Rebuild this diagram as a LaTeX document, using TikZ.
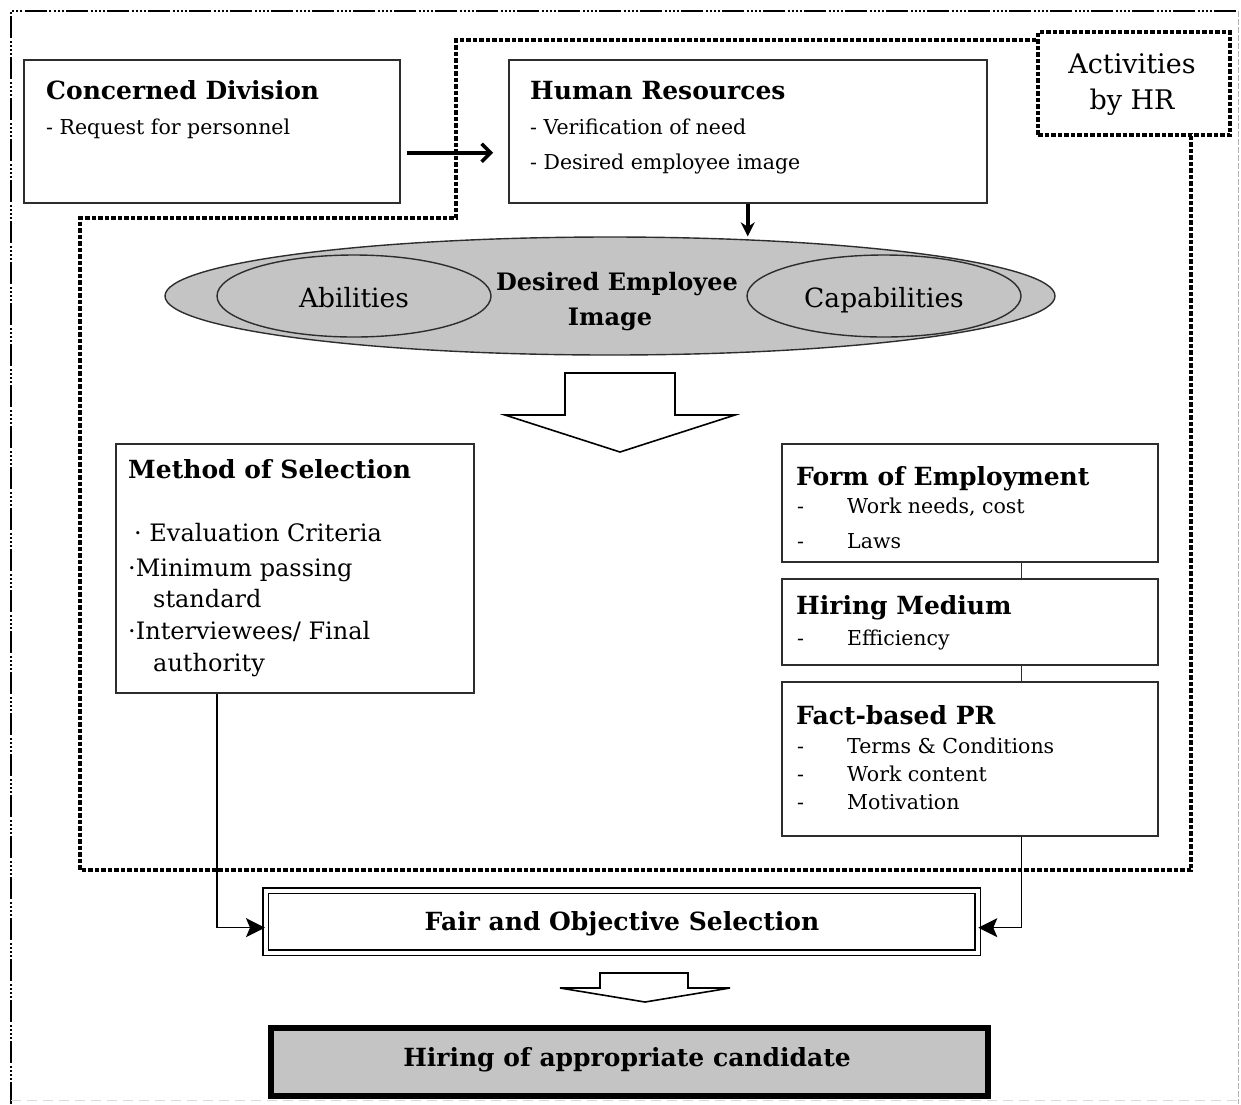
\documentclass[tikz,border=0pt]{standalone}
\usepackage{fontspec}
\setmainfont{DejaVu Serif}
\usetikzlibrary{arrows.meta,shapes.geometric}

\definecolor{shade}{RGB}{196,196,196}
\definecolor{edge}{RGB}{45,45,45}

\begin{document}
\begin{tikzpicture}[x=1pt,y=-1pt,
  box/.style={draw=edge,line width=1.5pt,fill=white,anchor=north west,inner sep=0pt},
  hrzone/.style={line width=4pt,dash pattern=on 4.5pt off 2pt},
  oval/.style={ellipse,draw=edge,line width=1.4pt,inner sep=0pt},
  heading/.style={font=\bfseries\fontsize{25}{29}\selectfont,anchor=base west,inner sep=0pt},
  item/.style={font=\fontsize{20.5}{24}\selectfont,anchor=base west,inner sep=0pt},
  listitem/.style={font=\fontsize{24}{28}\selectfont,anchor=base west,inner sep=0pt},
  plain/.style={font=\fontsize{27}{31}\selectfont,anchor=base,inner sep=0pt},
  banner/.style={font=\bfseries\fontsize{25}{29}\selectfont,anchor=base,inner sep=0pt},
  feed/.style={line width=1.3pt,-{Stealth[length=19pt,width=19pt,inset=4pt]}},
  hollow/.style={draw=black,line width=1.6pt,fill=white,line join=miter}
]
\useasboundingbox (0,0) rectangle (1241,1104);

% page frame
\draw[line width=2.4pt,dash pattern=on 22pt off 2.5pt on 2pt off 2pt on 2pt off 2pt on 2pt off 2pt on 2pt off 2.5pt]
  (11,1104) -- (11,11) -- (1238,11);
\draw[gray!60,line width=0.8pt,dash pattern=on 6pt off 2pt] (1238,11) -- (1238,1104);
\draw[gray!30,line width=0.8pt,dash pattern=on 10pt off 6pt] (11,1100) -- (1238,1100);

% requesting division and HR
\node[box,minimum width=376pt,minimum height=143pt] (cd) at (23,59) {};
\node[heading] (cdT) at (46,99) {Concerned Division};
\node[item] (cdL) at (46,134) {- Request for personnel};

\node[box,minimum width=478pt,minimum height=143pt] (hr) at (508,59) {};
\node[heading] (hrT) at (530,99) {Human Resources};
\node[item] (hrL1) at (530,134) {- Verification of need};
\node[item] (hrL2) at (530,169) {- Desired employee image};

\node[box,draw=black,hrzone,minimum width=192pt,minimum height=103pt] (act) at (1036,30) {};
\node[plain] (actA) at (1132,73) {Activities};
\node[plain] (actB) at (1132,109) {by HR};

% boundary of the HR activities
\draw[hrzone] ([yshift=-10pt]act.north west) -- (456,40) -- (456,218) -- (80,218)
  -- (80,870) -- (1191,870) -- (1191,133);

\draw[line width=3.5pt,-{Straight Barb[length=9pt,width=18pt,line width=3.5pt]}]
  ([shift={(6,21.5)}]cd.east) -- ([shift={(-15,21.5)}]hr.west);

% desired employee image
\node[oval,fill=shade,minimum width=890pt,minimum height=118pt] (dei) at (610,296) {};
\node[oval,minimum width=274pt,minimum height=82pt] (abil) at (354,296) {};
\node[oval,minimum width=274pt,minimum height=82pt] (capa) at (884,296) {};
\node[banner,font=\bfseries\fontsize{24}{28}\selectfont] (deiA) at (617,290) {Desired Employee};
\node[banner,font=\bfseries\fontsize{24}{28}\selectfont] (deiB) at (610,325) {Image};
\node[plain,font=\fontsize{26.5}{30}\selectfont] (abilT) at (354,307) {Abilities};
\node[plain,font=\fontsize{26.5}{30}\selectfont] (capaT) at (884,307) {Capabilities};

\draw[line width=3.5pt,-{Stealth[length=14pt,width=14pt]}] (hr.south) -- (hr.south |- dei.north);

\draw[hollow] (565,373) -- (675,373) -- (675,415) -- (735,415) -- (620,452)
  -- (505,415) -- (565,415) -- cycle;

% method of selection
\node[box,minimum width=358pt,minimum height=249pt] (mos) at (115,443) {};
\node[heading] (mosT) at (128,478) {Method of Selection};
\node[listitem] (mos1) at (134,541) {· Evaluation Criteria};
\node[listitem] (mos2) at (128,576) {·Minimum passing};
\node[listitem] (mos3) at (153,607) {standard};
\node[listitem] (mos4) at (128,639) {·Interviewees/ Final};
\node[listitem] (mos5) at (153,671) {authority};

% employment, medium and PR
\node[box,minimum width=376pt,minimum height=118pt] (foe) at (781,443) {};
\node[heading] (foeT) at (796,485) {Form of Employment};
\node[item] (foe1) at (797,513) {\makebox[50pt][l]{-}Work needs, cost};
\node[item] (foe2) at (797,548) {\makebox[50pt][l]{-}Laws};

\node[box,minimum width=376pt,minimum height=86pt] (hm) at (781,578) {};
\node[heading] (hmT) at (796,614) {Hiring Medium};
\node[item] (hm1) at (797,645) {\makebox[50pt][l]{-}Efficiency};

\node[box,minimum width=376pt,minimum height=154pt] (pr) at (781,681) {};
\node[heading] (prT) at (796,724) {Fact-based PR};
\node[item] (pr1) at (797,753) {\makebox[50pt][l]{-}Terms \& Conditions};
\node[item] (pr2) at (797,781) {\makebox[50pt][l]{-}Work content};
\node[item] (pr3) at (797,809) {\makebox[50pt][l]{-}Motivation};

\draw[edge,line width=1.3pt] ([xshift=52pt]foe.south) -- ([xshift=52pt]hm.north);
\draw[edge,line width=1.3pt] ([xshift=52pt]hm.south) -- ([xshift=52pt]pr.north);

% selection and hiring
\node[box,draw=black,line width=1.3pt,double=white,double distance=4pt,
  minimum width=712pt,minimum height=62pt] (fair) at (265,890) {};
\node[banner] (fairT) at (622,930) {Fair and Objective Selection};

\draw[feed] ([xshift=102pt]mos.south west) |- ([yshift=-6pt]fair.west);
\draw[feed] ([xshift=52pt]pr.south) |- ([yshift=-6pt]fair.east);

\draw[hollow] (600,973) -- (688,973) -- (688,988) -- (730,988) -- (645,1002)
  -- (560,988) -- (600,988) -- cycle;

\node[box,draw=black,line width=6pt,fill=shade,minimum width=717pt,minimum height=68pt] (hire) at (268,1025) {};
\node[banner] (hireT) at (627,1066) {Hiring of appropriate candidate};
\end{tikzpicture}
\end{document}
